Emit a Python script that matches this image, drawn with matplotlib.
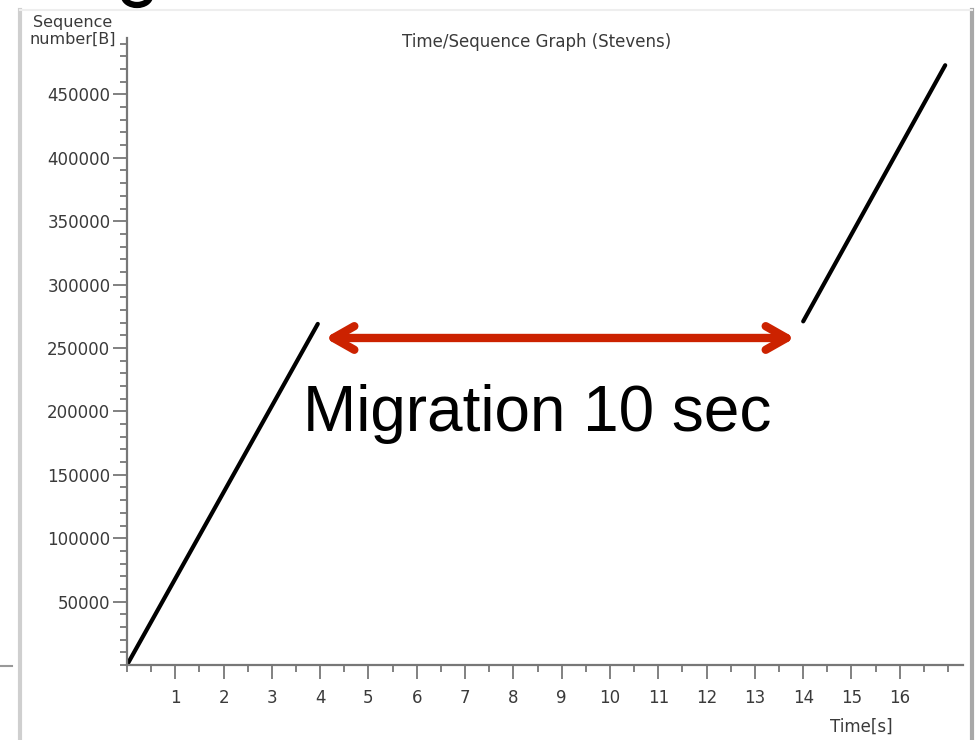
import matplotlib
matplotlib.use("Agg")
import matplotlib.pyplot as plt
from matplotlib.lines import Line2D
from matplotlib.patches import Arc
from matplotlib.ticker import MultipleLocator, FixedLocator

# data (time in s, sequence number in bytes)
t_before = [0.0, 3.95]
seq_before = [0, 269000]
t_after = [14.0, 16.94]
seq_after = [271000, 473000]

x_ticks = list(range(1, 17))
y_ticks = list(range(50000, 450001, 50000))

W, H = 979, 740
fig = plt.figure(figsize=(W / 100, H / 100), dpi=100)

# axes placed in pixel terms
left, right, bottom, top = 127, 963, 665, 38
ax = fig.add_axes([left / W, 1 - bottom / H, (right - left) / W, (bottom - top) / H])

gray_txt = "#3a3a3a"
ax.plot(t_before, seq_before, color="black", lw=3, solid_capstyle="round")
ax.plot(t_after, seq_after, color="black", lw=3, solid_capstyle="round")

ax.set_xlim(0, (right - left) / 48.3)
ax.set_ylim(0, (bottom - top) / 63.4 * 50000)

for s in ["top", "right"]:
    ax.spines[s].set_visible(False)
for s in ["left", "bottom"]:
    ax.spines[s].set_color("#777777")
    ax.spines[s].set_linewidth(1.6)

ax.xaxis.set_major_locator(FixedLocator(x_ticks))
ax.xaxis.set_minor_locator(MultipleLocator(0.5))
ax.yaxis.set_major_locator(FixedLocator(y_ticks))
ax.yaxis.set_minor_locator(MultipleLocator(10000))
ax.tick_params(axis="both", which="major", length=10, width=1.3, color="#777777",
               labelcolor=gray_txt, labelsize=12, direction="out")
ax.tick_params(axis="both", which="minor", length=5, width=1.3, color="#777777", direction="out")
ax.tick_params(axis="x", which="major", pad=7)
ax.tick_params(axis="y", which="major", pad=2)

fig.text(537 / W, 1 - 42 / H, "Time/Sequence Graph (Stevens)", ha="center", va="center",
         fontsize=12, color=gray_txt)
fig.text(73 / W, 1 - 31 / H, "Sequence\nnumber[B]", ha="center", va="center",
         fontsize=11.5, color=gray_txt, linespacing=1.2)
fig.text(861 / W, 1 - 727 / H, "Time[s]", ha="center", va="center",
         fontsize=12, color=gray_txt)

# migration gap annotation
ax.annotate("", xy=(4.1, 257900), xytext=(13.83, 257900),
            arrowprops=dict(arrowstyle="<->,head_length=1.5,head_width=0.85",
                            color="#cc2200", lw=6, capstyle="round", joinstyle="round",
                            shrinkA=0, shrinkB=0))
ax.text(3.64, 184500, "Migration 10 sec", fontsize=46, family="Liberation Sans",
        color="black", va="baseline", ha="left")

# slide frame remnants
fig.add_artist(Line2D([20 / W, 20 / W], [0, 1 - 10 / H], color="#cfcfcf", lw=3))
fig.add_artist(Line2D([972 / W, 972 / W], [0, 1 - 10 / H], color="#a8a8a8", lw=3))
fig.add_artist(Line2D([20 / W, 972 / W], [1 - 10 / H, 1 - 10 / H], color="#eeeeee", lw=1.5))
fig.add_artist(Line2D([0, 12 / W], [1 - 666 / H, 1 - 666 / H], color="#999999", lw=1.5))
# bottom of a slide-title letter peeking in at the top edge
fig.add_artist(Arc((137 / W, 1 + 4 / H), 26 / W, 18 / H, theta1=180, theta2=360,
                   color="black", lw=4.5, transform=fig.transFigure))

fig.savefig("out.png", dpi=100)
